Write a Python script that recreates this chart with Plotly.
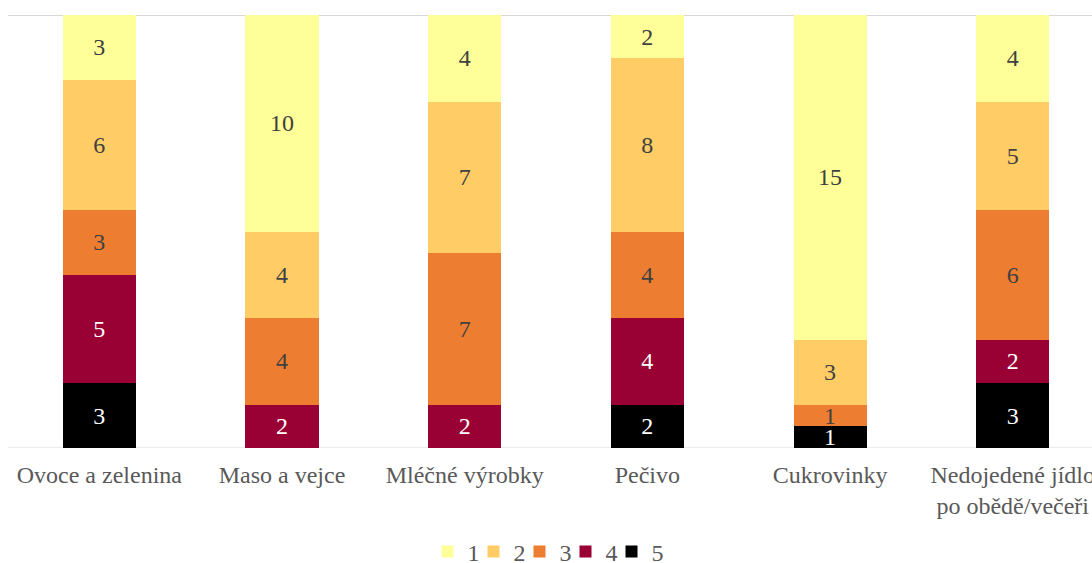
import plotly.graph_objects as go

categories = ["Ovoce a zelenina", "Maso a vejce", "Mléčné výrobky", "Pečivo", "Cukrovinky",
              "Nedojedené jídlo<br>po obědě/večeři"]
series_names = ["1", "2", "3", "4", "5"]
v1 = [3, 10, 4, 2, 15, 4]
v2 = [6, 4, 7, 8, 3, 5]
v3 = [3, 4, 7, 4, 1, 6]
v4 = [5, 2, 2, 4, 0, 2]
v5 = [3, 0, 0, 2, 1, 3]

values = {"1": v1, "2": v2, "3": v3, "4": v4, "5": v5}
colors = {"1": "#FFFF99", "2": "#FFCC66", "3": "#ED7D31", "4": "#990033", "5": "#000000"}
text_colors = {"1": "#404040", "2": "#404040", "3": "#404040", "4": "#FFFFFF", "5": "#FFFFFF"}

FONT = "Liberation Serif, Times New Roman, serif"

fig = go.Figure()
for name in ["5", "4", "3", "2", "1"]:
    vals = [v if v else None for v in values[name]]
    fig.add_trace(go.Bar(
        x=categories, y=vals, name=name,
        marker=dict(color=colors[name], line=dict(width=0)),
        text=[str(v) if v else "" for v in values[name]],
        textposition="inside", insidetextanchor="middle", textangle=0,
        textfont=dict(family=FONT, size=24, color=text_colors[name]),
        constraintext="none", cliponaxis=False,
        legendwidth=16 if name == "5" else 1,
        hoverinfo="skip",
    ))

fig.update_layout(
    barmode="stack", bargap=0.6,
    width=1092, height=563,
    margin=dict(l=8, r=0, t=15, b=115, autoexpand=False),
    paper_bgcolor="white", plot_bgcolor="white",
    font=dict(family=FONT, size=24, color="#595959"),
    uniformtext=dict(minsize=22, mode="show"),
    showlegend=True,
    legend=dict(orientation="h", traceorder="reversed", x=0.5, xanchor="center",
                y=-0.24, yanchor="middle", font=dict(family=FONT, size=24, color="#595959"),
                itemwidth=30, entrywidthmode="pixels"),
    xaxis=dict(range=[-0.5, 5.434], showgrid=False, showline=False, ticks="",
               automargin=False, ticklabelstandoff=10,
               tickfont=dict(family=FONT, size=24, color="#595959")),
    yaxis=dict(range=[0, 20], showgrid=False, showticklabels=False, zeroline=False,
               showline=False, automargin=False),
)
fig.add_shape(type="line", xref="paper", yref="y", x0=0, x1=1, y0=20, y1=20,
              line=dict(color="#D9D9D9", width=2), layer="below")
fig.add_shape(type="line", xref="paper", yref="y", x0=0, x1=1, y0=0, y1=0,
              line=dict(color="#D9D9D9", width=1), layer="below")

fig.write_html("out.html", config={"displayModeBar": False},
               post_script="document.body.style.margin='0';document.body.style.overflow='hidden';")
